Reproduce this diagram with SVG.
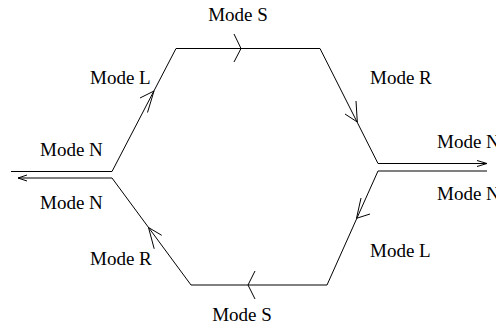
<svg xmlns="http://www.w3.org/2000/svg" width="496" height="328" viewBox="0 0 496 328">
<style>
.ln{fill:none;stroke:#000;stroke-width:1}
.ah{fill:none;stroke:#000;stroke-width:1}
.lbl{font-family:"Liberation Serif","Times New Roman",serif;font-size:19px;fill:#000}
</style>
<rect width="496" height="328" fill="#fff"/>
<g id="connectors">
  <path class="ln" d="M11,171.5 L112,171.5 L176,48.5 L320,48.5 L378,163.5 L487,163.5"/>
  <path class="ln" d="M18,178 L112,178 L191,285 L327,285 L378,171 L487,171"/>
</g>
<g id="arrowheads">
  <path class="ah" d="M234,34 L241,48.5 L234,62"/>
  <path class="ah" d="M255,271 L248,285 L255,299"/>
  <path class="ah" d="M140,98 L154,91 L147.5,112.5"/>
  <path class="ah" d="M345,114 L357.3,122 L356,101"/>
  <path class="ah" d="M161.7,235.3 L148.5,227.5 L154.2,248.8"/>
  <path class="ah" d="M370,214 L356.5,218.3 L361,198"/>
  <path class="ah" d="M477,160.5 L487,163.5 L477,166.5"/>
  <path class="ah" d="M27,175 L18,178 L27,181"/>
</g>
<g id="labels">
  <text class="lbl" x="238" y="21" text-anchor="middle">Mode S</text>
  <text class="lbl" x="242" y="321" text-anchor="middle">Mode S</text>
  <text class="lbl" x="90" y="84">Mode L</text>
  <text class="lbl" x="370" y="84">Mode R</text>
  <text class="lbl" x="40" y="156">Mode N</text>
  <text class="lbl" x="40" y="209">Mode N</text>
  <text class="lbl" x="437" y="148">Mode N</text>
  <text class="lbl" x="437" y="200">Mode N</text>
  <text class="lbl" x="90" y="265">Mode R</text>
  <text class="lbl" x="370" y="256.5">Mode L</text>
</g>
</svg>
